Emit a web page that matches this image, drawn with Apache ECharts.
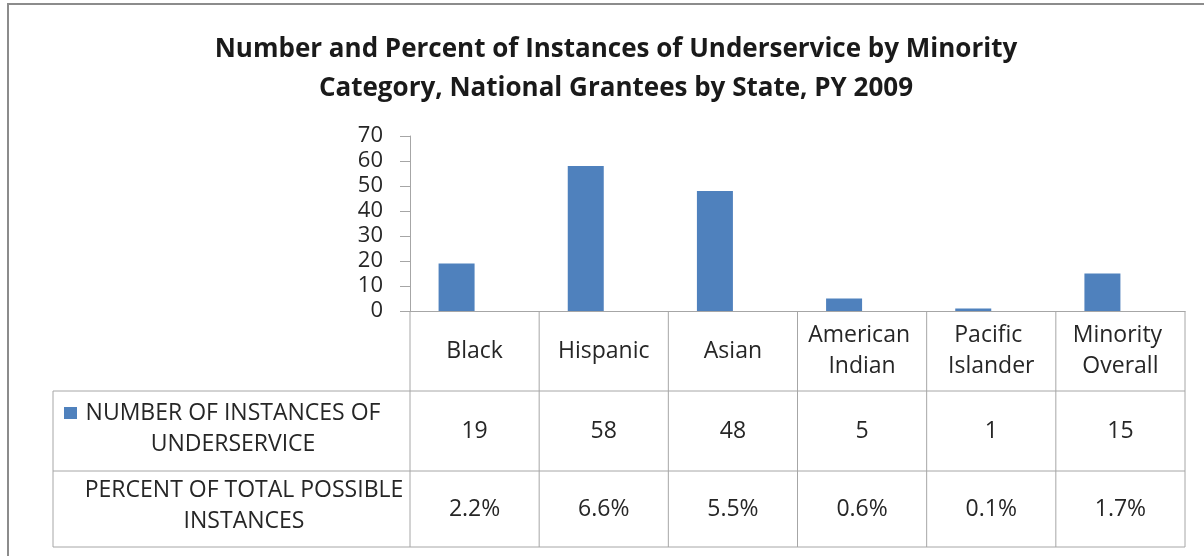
<!DOCTYPE html>
<html>
<head>
<meta charset="utf-8">
<script src="https://cdn.jsdelivr.net/npm/echarts@6/dist/echarts.min.js"></script>
<style>
html,body{margin:0;padding:0;background:#fff;}
#chart{width:1204px;height:556px;}
</style>
</head>
<body>
<div id="chart"></div>
<script>
var categories = ['Black', 'Hispanic', 'Asian', 'American Indian', 'Pacific Islander', 'Minority Overall'];
var instances = [19, 58, 48, 5, 1, 15];
var percents = ['2.2%', '6.6%', '5.5%', '0.6%', '0.1%', '1.7%'];
var rowLabels = ['NUMBER OF INSTANCES OF\nUNDERSERVICE', 'PERCENT OF TOTAL POSSIBLE\nINSTANCES'];
var yMin = 0, yMax = 70, yStep = 10;

var barColor = '#4F81BD';
var lineColor = '#A6A6A6';
var textColor = '#262626';
var font = '"Open Sans", "Liberation Sans", sans-serif';

var chart = echarts.init(document.getElementById('chart'));

chart.setOption({
	backgroundColor: '#fff',
	animation: false,
	title: {
		text: 'Number and Percent of Instances of Underservice by Minority\nCategory, National Grantees by State, PY 2009',
		left: 611,
		top: 25,
		textAlign: 'center',
		textStyle: {
			color: '#1a1a1a',
			fontFamily: font,
			fontWeight: 'bold',
			fontSize: 26,
			lineHeight: 39
		}
	},
	grid: {
		left: 410,
		top: 136,
		width: 775,
		height: 175
	},
	xAxis: {
		type: 'category',
		data: categories,
		axisLine: { show: true, lineStyle: { color: lineColor, width: 1 } },
		axisTick: { show: false },
		axisLabel: {
			interval: 0,
			margin: 40,
			verticalAlign: 'middle',
			width: 124,
			overflow: 'break',
			lineHeight: 31,
			color: textColor,
			fontFamily: font,
			fontSize: 23
		}
	},
	yAxis: {
		type: 'value',
		min: yMin,
		max: yMax,
		interval: yStep,
		axisLine: { show: true, lineStyle: { color: lineColor, width: 1 } },
		axisTick: { show: true, length: 10, lineStyle: { color: lineColor } },
		splitLine: { show: false },
		axisLabel: {
			margin: 27,
			color: textColor,
			fontFamily: font,
			fontSize: 22
		}
	},
	series: [{
		name: 'NUMBER OF INSTANCES OF UNDERSERVICE',
		type: 'bar',
		data: instances,
		barWidth: 36,
		barGap: 0,
		itemStyle: { color: barColor }
	}, {
		// percent series sits beside the counts but has no fill (fractions, invisible at this scale)
		name: 'PERCENT OF TOTAL POSSIBLE INSTANCES',
		type: 'bar',
		data: percents.map(function (p) { return parseFloat(p) / 100; }),
		barWidth: 36,
		barGap: 0,
		itemStyle: { color: 'rgba(0,0,0,0)' }
	}]
});

// data table under the axis, positioned from the category scale
function drawTable() {
	var centers = categories.map(function (c) {
		return chart.convertToPixel({ xAxisIndex: 0 }, c);
	});
	var band = centers[1] - centers[0];
	var left = centers[0] - band / 2;
	var right = centers[centers.length - 1] + band / 2;
	var axisY = chart.convertToPixel({ yAxisIndex: 0 }, yMin);
	var rowH = [80, 80, 76];
	var r1 = axisY + rowH[0], r2 = r1 + rowH[1], r3 = r2 + rowH[2];
	var tableLeft = 53;
	var els = [];
	var ls = { stroke: lineColor, lineWidth: 1 };

	// outer chart border
	els.push({ type: 'rect', shape: { x: 8, y: 4, width: 1300, height: 700 }, style: { fill: null, stroke: '#8C8C8C', lineWidth: 2 }, silent: true });

	[r1, r2, r3].forEach(function (y) {
		els.push({ type: 'line', shape: { x1: tableLeft, y1: y, x2: right, y2: y }, style: ls, silent: true });
	});
	els.push({ type: 'line', shape: { x1: tableLeft, y1: r1, x2: tableLeft, y2: r3 }, style: ls, silent: true });
	for (var i = 0; i <= categories.length; i++) {
		var x = left + band * i;
		els.push({ type: 'line', shape: { x1: x, y1: axisY, x2: x, y2: r3 }, style: ls, silent: true });
	}

	var ts = { fill: textColor, font: '23px ' + font, textAlign: 'center', textVerticalAlign: 'middle', lineHeight: 31 };
	centers.forEach(function (cx, i) {
		els.push({ type: 'text', x: cx, y: (r1 + r2) / 2, style: Object.assign({ text: String(instances[i]) }, ts), silent: true });
		els.push({ type: 'text', x: cx, y: (r2 + r3) / 2, style: Object.assign({ text: percents[i] }, ts), silent: true });
	});

	// legend key and row headers
	els.push({ type: 'rect', shape: { x: 64, y: 407, width: 13, height: 12 }, style: { fill: barColor }, silent: true });
	els.push({ type: 'text', x: 233, y: (r1 + r2) / 2 - 2, style: Object.assign({ text: rowLabels[0] }, ts), silent: true });
	els.push({ type: 'text', x: 244, y: (r2 + r3) / 2 - 3, style: Object.assign({ text: rowLabels[1] }, ts), silent: true });

	chart.setOption({ graphic: { elements: els } });
}
drawTable();
</script>
</body>
</html>
